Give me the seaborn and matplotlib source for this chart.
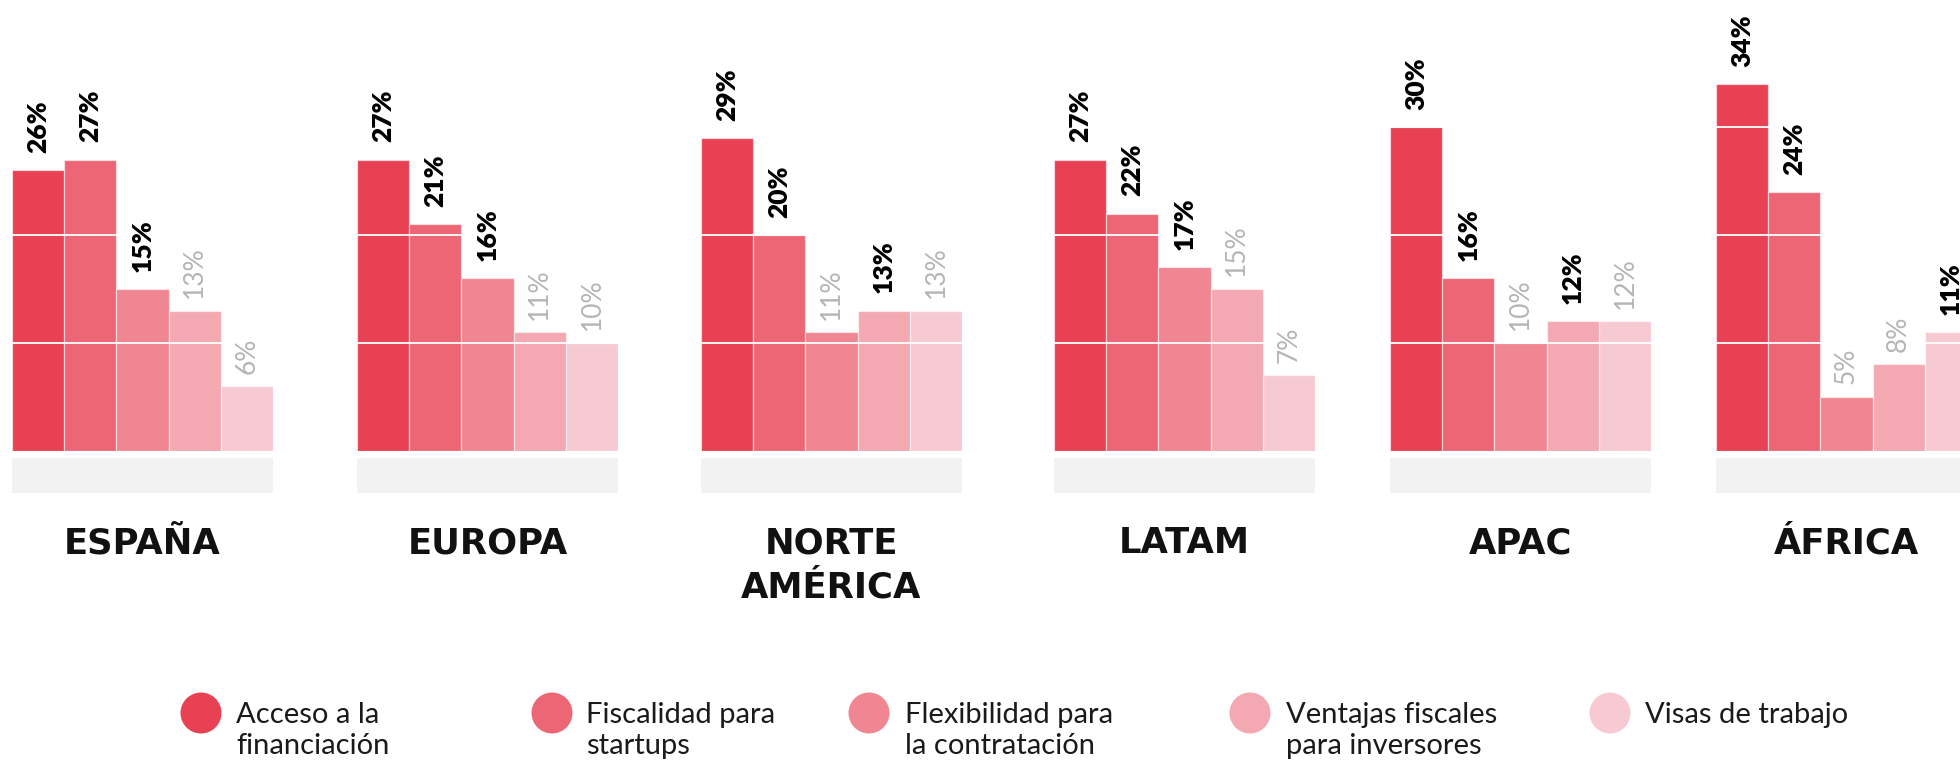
import numpy as np
import pandas as pd
import seaborn as sns
import matplotlib.pyplot as plt
from matplotlib.patches import Circle, Rectangle

# --- data -------------------------------------------------------------
regions = ["ESPAÑA", "EUROPA", "NORTE\nAMÉRICA", "LATAM", "APAC", "ÁFRICA"]
factors = [
    "Acceso a la\nfinanciación",
    "Fiscalidad para\nstartups",
    "Flexibilidad para\nla contratación",
    "Ventajas fiscales\npara inversores",
    "Visas de trabajo",
]
espana = [26, 27, 15, 13, 6]
europa = [27, 21, 16, 11, 10]
norte_america = [29, 20, 11, 13, 13]
latam = [27, 22, 17, 15, 7]
apac = [30, 16, 10, 12, 12]
africa = [34, 24, 5, 8, 11]
values = [espana, europa, norte_america, latam, apac, africa]

palette = ["#E84153", "#EC6675", "#F08691", "#F3A8B2", "#F7CAD3"]

# --- layout (pixels on a 1960x760 canvas) -----------------------------
W, H = 1960, 760
group_left = [12, 357, 701, 1054, 1390, 1716]
GROUP_W = 261
BASE = 450.7          # baseline of the bars, from the top
PX_PER_PCT = 10.78
YMAX = 40

sns.set_theme(style="white")
plt.rcParams["font.family"] = ["DejaVu Sans"]

fig = plt.figure(figsize=(W / 100, H / 100), dpi=100)
fig.patch.set_facecolor("white")

label_font = ["Lato", "DejaVu Sans"]

for i, (region, vals) in enumerate(zip(regions, values)):
    left = group_left[i]
    ax = fig.add_axes([left / W, (H - BASE) / H, GROUP_W / W, YMAX * PX_PER_PCT / H])
    df = pd.DataFrame({"factor": factors, "pct": vals})
    sns.barplot(
        data=df, x="factor", y="pct", hue="factor", order=factors,
        hue_order=factors, palette=palette, width=1.0, saturation=1,
        edgecolor=(1, 1, 1, 0.55), linewidth=0.9, legend=False, ax=ax, zorder=2,
    )
    ax.set_xlim(-0.5, 4.5)
    ax.set_ylim(0, YMAX)
    for g in (10, 20, 30):
        ax.axhline(g, color="white", lw=1.3, zorder=3)
    ax.axis("off")

    # the three largest values of each region get a bold label
    top3 = set(np.argsort(-np.array(vals), kind="stable")[:3].tolist())
    for j, v in enumerate(vals):
        strong = j in top3
        ax.annotate(
            f"{v}%", xy=(j, v), xytext=(0, 12.5 if strong else 9),
            textcoords="offset points", rotation=90, ha="center", va="bottom",
            fontsize=19, family=label_font,
            fontweight="heavy" if strong else "normal",
            color="black" if strong else "#b5b5b5",
            annotation_clip=False, zorder=5,
        )

    # grey plinth under each group
    fig.add_artist(Rectangle((left / W, (H - 493) / H), GROUP_W / W, 35 / H,
                             transform=fig.transFigure, color="#f2f2f2", lw=0))

    # region name
    for k, line in enumerate(region.split("\n")):
        fig.text((left + GROUP_W / 2) / W, (H - (553 + 45 * k)) / H, line,
                 ha="center", va="baseline", fontsize=25.5, fontweight="bold",
                 color="#111111")

# --- legend -----------------------------------------------------------
legend_cx = [201, 552, 869, 1250, 1610]
legend_tx = [236, 586, 905, 1286, 1645]
for cx, tx, name, col in zip(legend_cx, legend_tx, factors, palette):
    fig.add_artist(Circle((cx / 100, (H - 713) / 100), 0.205,
                          transform=fig.dpi_scale_trans, color=col, lw=0))
    for k, line in enumerate(name.split("\n")):
        fig.text(tx / W, (H - (723 + 31 * k)) / H, line, ha="left",
                 va="baseline", fontsize=21, family=label_font,
                 fontweight="normal", color="#1a1a1a")

fig.savefig("out.png", dpi=100, facecolor="white")
